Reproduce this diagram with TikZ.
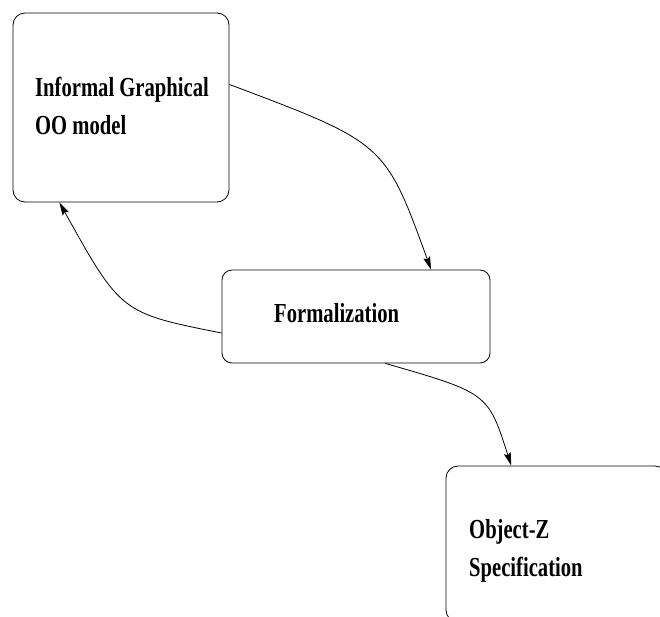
\documentclass[tikz,border=0pt]{standalone}
\usepackage{fontspec}
\usepackage{tikz}
\usetikzlibrary{arrows.meta, positioning, calc}
\newfontfamily\figfont[FakeStretch=0.75]{Liberation Serif}

\begin{document}
\begin{tikzpicture}[
  x=1pt, y=1pt,
  box/.style={rectangle, draw, line width=0.8pt, rounded corners=12pt,
              inner sep=0pt},
  lbl/.style={font=\figfont\bfseries\fontsize{27.5}{38}\selectfont,
              align=left, inner sep=0pt, anchor=north west},
  arr/.style={-{Stealth[length=13pt, width=7pt, inset=2pt]}, line width=0.8pt}
]
\useasboundingbox (0,0) rectangle (660,-616);

% Informal model
\node[box, minimum width=216pt, minimum height=189pt] (inf) at (121,-107.5) {};
\node[lbl] (inftxt) at (35,-76.5) {Informal Graphical\\OO model};

% Formalization step
\node[box, minimum width=268pt, minimum height=93pt, rounded corners=10pt] (form) at (356,-316.5) {};
\node[lbl] (formtxt) at (274,-303) {Formalization};

% Object-Z result
\node[box, minimum width=221pt, minimum height=156pt] (spec) at (556.5,-544) {};
\node[lbl] (spectxt) at (469,-519.5) {Object-Z\\Specification};

% Arrows
\draw[arr] (inf.12) .. controls (385,-143) and (385,-143) .. (form.32);
\draw[arr] (form.187) .. controls (121,-313) and (121,-313) .. (inf.237);
\draw[arr] (form.302) .. controls (488,-393) and (488,-393) .. (spec.120);

\end{tikzpicture}
\end{document}
